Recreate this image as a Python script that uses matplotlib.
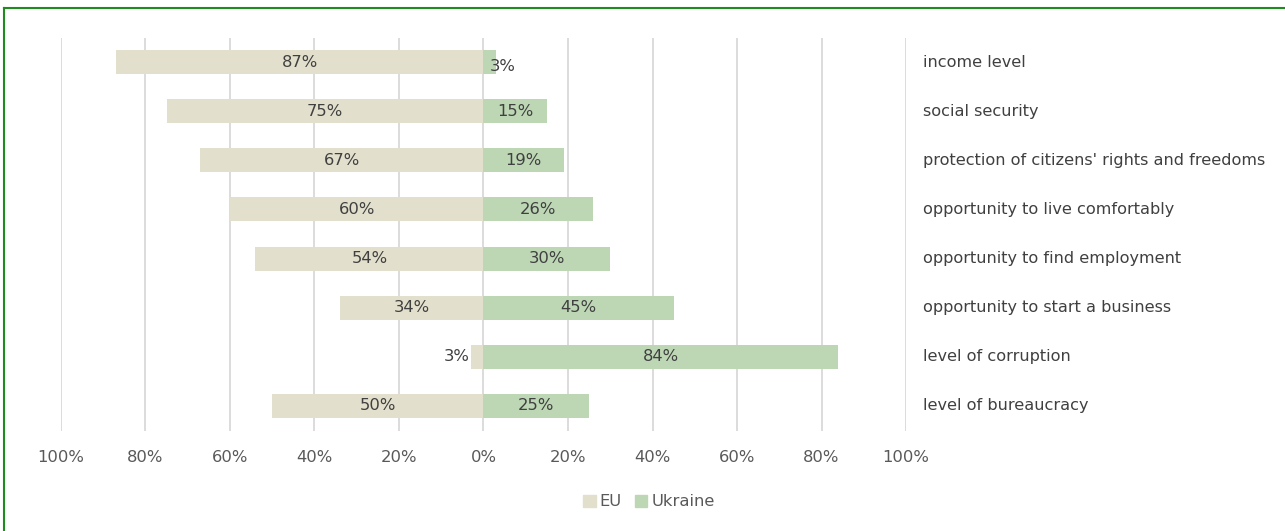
import matplotlib.pyplot as plt
from matplotlib.lines import Line2D
from matplotlib.patches import Patch

categories = ['income level', 'social security', "protection of citizens' rights and freedoms",
              'opportunity to live comfortably', 'opportunity to find employment',
              'opportunity to start a business', 'level of corruption', 'level of bureaucracy']
eu = [87, 75, 67, 60, 54, 34, 3, 50]
ukraine = [3, 15, 19, 26, 30, 45, 84, 25]
ticks = [-100, -80, -60, -40, -20, 0, 20, 40, 60, 80, 100]

eu_color = '#E2DFCC'
ua_color = '#BDD7B5'
txt = '#404040'
fs = 11.8

plt.rcParams['font.family'] = ['DejaVu Sans']

fig = plt.figure(figsize=(12.85, 5.31), dpi=100)
ax = fig.add_axes([61 / 1285, 1 - 430.5 / 531, 845 / 1285, 393 / 531])

y = list(range(len(categories)))
ax.barh(y, [-v for v in eu], height=0.49, color=eu_color, zorder=2)
ax.barh(y, ukraine, height=0.49, color=ua_color, zorder=2)

for i in y:
    # EU labels
    if eu[i] < 5:
        ax.text(-eu[i] - 0.4, i, f'{eu[i]}%', ha='right', va='center', color=txt, fontsize=fs, zorder=3)
    else:
        ax.text(-eu[i] / 2, i, f'{eu[i]}%', ha='center', va='center', color=txt, fontsize=fs, zorder=3)
    # Ukraine labels
    if ukraine[i] < 5:
        ax.text(ukraine[i] / 2 + 3, i + 0.1, f'{ukraine[i]}%', ha='center', va='center', color=txt, fontsize=fs, zorder=3)
    else:
        ax.text(ukraine[i] / 2, i, f'{ukraine[i]}%', ha='center', va='center', color=txt, fontsize=fs, zorder=3)
    # category on the right
    ax.text(104, i, categories[i], ha='left', va='center', color=txt, fontsize=fs - 0.2, clip_on=False)

ax.set_xlim(-100, 100)
ax.set_ylim(len(categories) - 0.5, -0.5)
ax.set_xticks(ticks)
ax.set_xticklabels([f'{abs(t)}%' for t in ticks])
ax.set_yticks([])
ax.tick_params(axis='x', length=0, pad=14, labelsize=fs, labelcolor='#595959')
ax.grid(axis='x', color='#D9D9D9', linewidth=1.3, zorder=0)
for s in ax.spines.values():
    s.set_visible(False)

handles = [Patch(color=eu_color), Patch(color=ua_color)]
fig.legend(handles, ['EU', 'Ukraine'], loc='center', bbox_to_anchor=(649 / 1285, 1 - 502 / 531),
           ncol=2, frameon=False, fontsize=fs, labelcolor='#595959', handlelength=0.75, handleheight=0.75,
           handletextpad=0.25, columnspacing=0.8)

# green frame (top and left)
fig.add_artist(Line2D([4 / 1285, 1], [1 - 8 / 531, 1 - 8 / 531], color='#1E8C1E', linewidth=1.5, transform=fig.transFigure))
fig.add_artist(Line2D([4 / 1285, 4 / 1285], [0, 1 - 8 / 531], color='#1E8C1E', linewidth=1.5, transform=fig.transFigure))

fig.savefig('out.png', dpi=100)
